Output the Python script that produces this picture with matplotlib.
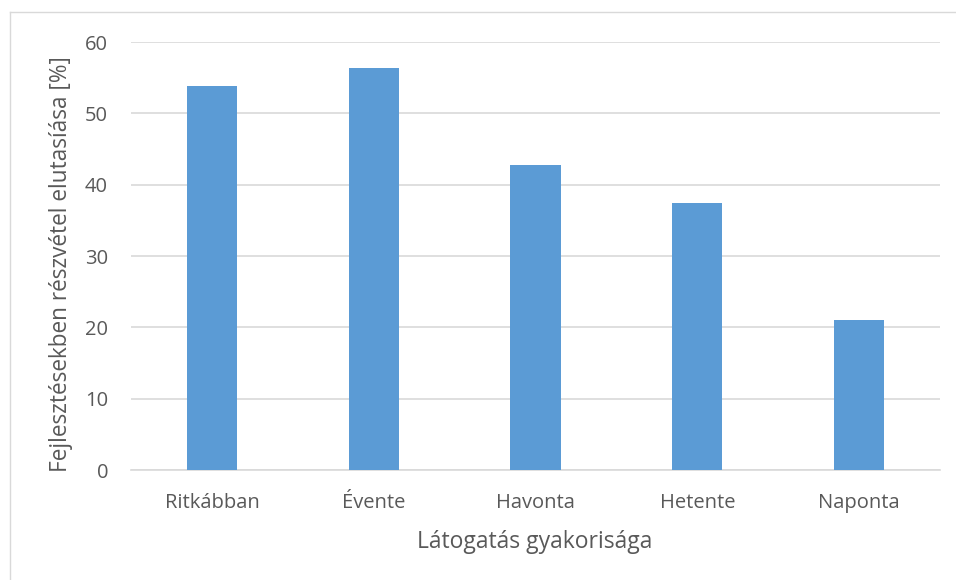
import matplotlib
matplotlib.use("Agg")
import matplotlib.pyplot as plt
from matplotlib.lines import Line2D

categories = ["Ritkábban", "Évente", "Havonta", "Hetente", "Naponta"]
values = [53.9, 56.3, 42.7, 37.4, 21.0]
yticks = [0, 10, 20, 30, 40, 50, 60]

plt.rcParams['font.family'] = ['Open Sans', 'DejaVu Sans']
text_color = "#595959"
W, H = 956, 580

fig = plt.figure(figsize=(W / 100, H / 100), dpi=100)
ax = fig.add_axes([131 / W, 1 - 470 / H, (940 - 131) / W, (470 - 42) / H])

x = list(range(len(categories)))
ax.bar(x, values, width=0.31, color="#5B9BD5", zorder=3)

ax.set_xlim(-0.5, len(categories) - 0.5)
ax.set_ylim(0, 60)
ax.set_yticks(yticks)
ax.set_xticks(x)
ax.set_xticklabels(categories)
ax.grid(axis="y", color="#D9D9D9", linewidth=1.2, zorder=0)
ax.tick_params(axis="both", length=0, labelsize=14.5, colors=text_color)
ax.tick_params(axis="x", pad=16.5)
ax.tick_params(axis="y", pad=16.5)
for side in ["top", "right", "left"]:
    ax.spines[side].set_visible(False)
ax.spines["bottom"].set_color("#D9D9D9")
ax.spines["bottom"].set_linewidth(1.2)

# axis titles placed in pixel coordinates of the figure
fig.text(534.5 / W, 1 - 548 / H, "Látogatás gyakorisága", fontsize=16.5,
         color=text_color, ha="center", va="baseline")
fig.text(61.5 / W, 1 - 264.5 / H, "Fejlesztésekben részvétel elutasíása [%]",
         fontsize=16.3, color=text_color, rotation=90, ha="center", va="center")

# chart-area frame (left and top edges)
frame_kw = dict(transform=fig.transFigure, color="#D9D9D9", linewidth=1)
fig.add_artist(Line2D([10 / W, 10 / W], [-0.01, 1 - 12 / H], **frame_kw))
fig.add_artist(Line2D([10 / W, 1.01], [1 - 12 / H, 1 - 12 / H], **frame_kw))

fig.savefig("out.png", dpi=100)
